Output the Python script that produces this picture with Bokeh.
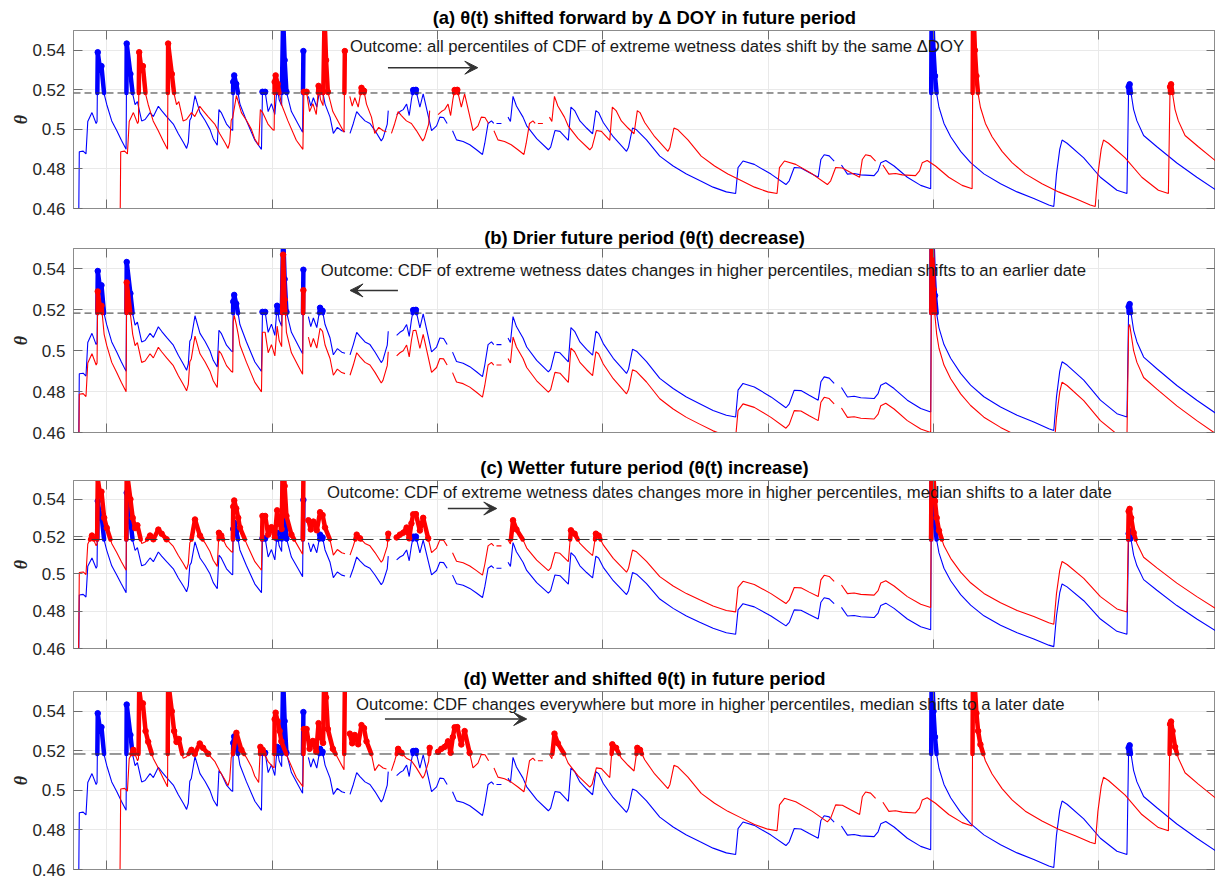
import math
from bokeh.plotting import figure
from bokeh.models import (Range1d, FixedTicker, LinearAxis, Span, Label, Arrow, VeeHead)
from bokeh.layouts import column
from bokeh.embed import file_html
from bokeh.resources import INLINE

nan = float("nan")

blue_t = [5.0, 5.8, 9.7, 12.5, 14.3, 18.5, 22.7, 23.6, 24.3, 26.7, 28.0, 30.7, 33.3, 38.3, 43.3, 48.0,
          52.7, 53.3, 57.0, 59.3, 61.7, 64.0, 68.3, 71.7, 76.7, 80.0, 85.0, 88.3, 93.3, 100.0,
          105.0, 110.0, 113.3, 115.0, 116.5, 118.0, 121.7, 126.7, 131.7, 136.7, 140.0, 144.0,
          145.7, 148.0, 153.3, 158.3, 159.5, 160.0, 161.0, 163.0, 165.0, 166.7, 173.3, 181.7,
          188.3, 189.3, 192.0, 195.0, 198.3, 201.7, 204.0, 206.0, 208.5, 210.0, 211.5, 213.3,
          218.3, 225.0, 229.5, 230.3, nan,
          235.3, 237.7, 240.3, 243.7, 247.0, 249.5, 252.0, 257.0, 260.3, 264.3, 268.7, 272.0, nan,
          277.0, 280.3, 283.7, 287.0, 292.0, 297.0, 302.0, 308.3, 310.0, 314.3, 315.3, nan,
          323.7, 327.0, 330.3, 333.7, 336.3, 338.5, 340.3, 343.0, 347.0, 350.3, 355.3, 358.7,
          363.7, 367.0, 370.7, 374.3, nan,
          379.7, 383.7, 390.3, 397.0, 403.7, 409.7, 412.0, 415.3, 418.7, 421.0, nan,
          423.7, 428.7, nan,
          435.3, 437.7, 440.3, 443.7, 450.3, 454.0, 464.0, 475.7, 478.0, 482.3, 487.3, 495.7,
          498.3, 502.0, 507.3, 514.0, 520.0, 523.3, 526.0, 530.7, 540.7, 554.0, 556.0, 560.0,
          564.0, 574.0, 587.3, 600.7, 614.0, 627.3, 640.7, 654.0, 663.3, 665.7, 670.7, 682.0,
          698.7, 713.7, 717.0, 722.0, 728.7, 737.0, 746.0, 748.7, 752.0, 757.0, 762.0, nan,
          769.3, 775.3, 782.0, 788.7, 802.0, 806.0, 808.7, 813.7, 822.0, 835.3, 848.7, 858.7,
          859.7, 861.5, 863.0, 864.7, 867.0, 872.0, 878.7, 888.7, 898.7, 912.0, 928.7, 945.3,
          962.0, 977.0, 982.0, 984.7, 988.0, 990.3, 995.3, 1012.0, 1028.7, 1045.3, 1055.3,
          1057.0, 1058.0, 1059.5, 1062.0, 1065.3, 1072.0, 1085.3, 1105.3, 1125.3, 1144.0]
blue_theta = [0.440, 0.4887, 0.4890, 0.4876, 0.5040, 0.5085, 0.5030, 0.5040, 0.5390, 0.5300, 0.5320,
              0.5180, 0.5126, 0.5043, 0.4994, 0.4945, 0.4899, 0.5434, 0.5280, 0.5180, 0.5125,
              0.5140, 0.5043, 0.5050, 0.5085, 0.5065, 0.5117, 0.5095, 0.5065, 0.5027, 0.4978,
              0.4935, 0.4904, 0.4935, 0.5046, 0.5060, 0.5171, 0.5085, 0.5046, 0.5000, 0.4953,
              0.4920, 0.5100, 0.5085, 0.5027, 0.4998, 0.4995, 0.5240, 0.5273, 0.5230, 0.5180,
              0.5128, 0.5043, 0.4945, 0.4899, 0.5190, 0.5190, 0.5090, 0.5130, 0.5075, 0.5220,
              0.5150, 0.5120, 0.5570, 0.5350, 0.5190, 0.5090, 0.5027, 0.4985, 0.5396, nan,
              0.5167, 0.5118, 0.5160, 0.5113, 0.5210, 0.5195, 0.5128, 0.5062, 0.4980, 0.5010,
              0.4993, 0.4988, nan,
              0.4980, 0.5030, 0.5090, 0.5070, 0.5043, 0.5030, 0.4994, 0.4942, 0.4955, 0.5027,
              0.5095, nan,
              0.5075, 0.5090, 0.5100, 0.5128, 0.5070, 0.5150, 0.5199, 0.5200, 0.5112, 0.5180,
              0.5070, 0.4994, 0.5018, 0.5062, 0.5060, 0.5030, nan,
              0.4993, 0.4947, 0.4939, 0.4922, 0.4897, 0.4873, 0.4930, 0.5030, 0.5043, 0.5030, nan,
              0.5030, 0.5030, nan,
              0.5062, 0.5040, 0.5167, 0.5118, 0.5062, 0.5018, 0.4953, 0.4897, 0.4910, 0.4994,
              0.4990, 0.4945, 0.5113, 0.5095, 0.5043, 0.5007, 0.4978, 0.5095, 0.5085, 0.5035,
              0.4963, 0.4889, 0.4910, 0.5007, 0.4998, 0.4947, 0.4865, 0.4815, 0.4774, 0.4741,
              0.4708, 0.4684, 0.4676, 0.4807, 0.4840, 0.4823, 0.4774, 0.4721, 0.4740, 0.4807,
              0.4805, 0.4782, 0.4758, 0.4848, 0.4872, 0.4866, 0.4840, nan,
              0.4820, 0.4774, 0.4777, 0.4770, 0.4766, 0.4790, 0.4831, 0.4843, 0.4815, 0.4758,
              0.4717, 0.4700, 0.5660, 0.5400, 0.5270, 0.5180, 0.5112, 0.5030, 0.4963, 0.4889,
              0.4832, 0.4775, 0.4725, 0.4684, 0.4651, 0.4618, 0.4610, 0.4774, 0.4900, 0.4946,
              0.4930, 0.4856, 0.4758, 0.4692, 0.4676, 0.5215, 0.5228, 0.5180, 0.5100, 0.5043,
              0.4969, 0.4912, 0.4830, 0.4758, 0.4695]

# ---- future-period scenarios (red): shift in time and change in theta ----
panel_titles = ["(a) \u03b8(t) shifted forward by \u0394 DOY in future period",
                "(b) Drier future period (\u03b8(t) decrease)",
                "(c) Wetter future period (\u03b8(t) increase)",
                "(d) Wetter and shifted \u03b8(t) in future period"]
shift_t = [41.5, 0.0, 0.0, 41.5]
offset_theta = [0.0, -0.010, 0.012, 0.012]
outcome_notes = ["Outcome: all percentiles of CDF of extreme wetness dates shift by the same \u0394DOY",
                 "Outcome: CDF of extreme wetness dates changes in higher percentiles, median shifts to an earlier date",
                 "Outcome: CDF of extreme wetness dates changes more in higher percentiles, median shifts to a later date",
                 "Outcome: CDF changes everywhere but more in higher percentiles, median shifts to a later date"]
note_t = [277, 247.7, 254, 283]
note_theta = [0.5420, 0.5393, 0.5436, 0.5434]
arrow_t0 = [315, 325, 375, 312]
arrow_t1 = [405, 277, 424, 454]
arrow_theta = [0.5312, 0.5295, 0.5350, 0.5361]

threshold = 0.5184
x_ticks = [33, 199, 365, 530, 696, 862, 1027]
y_ticks = [0.46, 0.48, 0.5, 0.52, 0.54]
y_tick_labels = ["0.46", "0.48", "0.5", "0.52", "0.54"]

# layout (frame heights and borders in px)
frame_h = [178, 184, 168, 178]
top_b = [30, 26, 30, 29]
bot_b = [14, 18, 14, 10]
title_standoff = [5.5, 2, 6, 5]
dashes = ["7 4", "7 4", "12 6", "12 6"]

FONT = "Liberation Sans"
AX = "#8c8c8c"
TICK = "#6e6e6e"


def above_parts(ts, vs, thr):
    x0, y0, x1, y1, px, py = [], [], [], [], [], []
    for i in range(len(ts) - 1):
        ta, va, tb, vb = ts[i], vs[i], ts[i + 1], vs[i + 1]
        if any(math.isnan(z) for z in (ta, va, tb, vb)):
            continue
        if va >= thr and vb >= thr:
            x0.append(ta); y0.append(va); x1.append(tb); y1.append(vb)
        elif va >= thr > vb:
            tc = ta + (thr - va) / (vb - va) * (tb - ta)
            x0.append(ta); y0.append(va); x1.append(tc); y1.append(thr)
        elif va < thr <= vb:
            tc = ta + (thr - va) / (vb - va) * (tb - ta)
            x0.append(tc); y0.append(thr); x1.append(tb); y1.append(vb)
    for t, v in zip(ts, vs):
        if not math.isnan(v) and v >= thr:
            px.append(t); py.append(v)
    return x0, y0, x1, y1, px, py


def tick_only_axis(ticks):
    # ticks drawn as (label-free) minor ticks, pointing inward
    return dict(ticker=FixedTicker(ticks=[], minor_ticks=ticks),
                minor_tick_in=9, minor_tick_out=0, minor_tick_line_color=TICK,
                major_tick_in=0, major_tick_out=0, major_label_standoff=0,
                axis_line_color=AX)


def make_panel(k):
    p = figure(frame_width=1142, frame_height=frame_h[k],
               x_range=Range1d(0, 1144), y_range=Range1d(0.46, 0.55),
               output_backend="svg", toolbar_location=None,
               x_axis_location=None, y_axis_location=None,
               min_border_left=73, min_border_right=0,
               min_border_top=top_b[k], min_border_bottom=bot_b[k],
               background_fill_color="white", border_fill_color="white")
    p.outline_line_color = AX
    p.title.text = panel_titles[k]
    p.title.align = "center"
    p.title.text_font = FONT
    p.title.text_font_style = "bold"
    p.title.text_font_size = "18.4px"
    p.title.text_color = "black"
    p.title.standoff = title_standoff[k]

    ya = LinearAxis(ticker=FixedTicker(ticks=y_ticks), major_tick_in=9, major_tick_out=0,
                    minor_tick_line_color=None, axis_line_color=AX,
                    major_tick_line_color=TICK, major_label_standoff=8,
                    major_label_text_font=FONT, major_label_text_font_size="17px",
                    major_label_text_color="#262626",
                    major_label_overrides=dict(zip(y_ticks, y_tick_labels)),
                    axis_label="\u03b8", axis_label_text_font="Liberation Serif",
                    axis_label_text_font_style="bold italic", axis_label_text_font_size="18px",
                    axis_label_text_color="#262626", axis_label_standoff=-2)
    p.add_layout(ya, "left")
    p.add_layout(LinearAxis(**tick_only_axis(x_ticks)), "below")
    p.add_layout(LinearAxis(**tick_only_axis(x_ticks)), "above")
    p.add_layout(LinearAxis(**tick_only_axis(y_ticks)), "right")

    p.xgrid.ticker = FixedTicker(ticks=x_ticks)
    p.ygrid.ticker = FixedTicker(ticks=y_ticks)
    p.grid.grid_line_color = "#e9e9e9"

    red_t = [t + shift_t[k] for t in blue_t]
    red_theta = [v + offset_theta[k] for v in blue_theta]

    p.line(blue_t, blue_theta, line_color="#0000ff", line_width=1.1)
    p.line(red_t, red_theta, line_color="#ff0000", line_width=1.1)

    for ts, vs, col in ((blue_t, blue_theta, "#0000ff"), (red_t, red_theta, "#ff0000")):
        x0, y0, x1, y1, px, py = above_parts(ts, vs, threshold)
        p.segment(x0, y0, x1, y1, line_color=col, line_width=4.5, line_cap="round")
        p.scatter(px, py, size=5.5, fill_color=col, line_color=col)

    p.add_layout(Span(location=threshold, dimension="width", line_color="#333333",
                      line_width=1, line_dash=dashes[k]))

    p.add_layout(Label(x=note_t[k], y=note_theta[k], text=outcome_notes[k],
                       text_font=FONT, text_font_size="16.7px", text_color="#1a1a1a",
                       text_baseline="middle", text_align="left"))
    p.add_layout(Arrow(end=VeeHead(size=13, fill_color="#333333", line_color="#333333"),
                       x_start=arrow_t0[k], y_start=arrow_theta[k],
                       x_end=arrow_t1[k], y_end=arrow_theta[k],
                       line_color="#333333", line_width=1.5))
    return p


panels = [make_panel(k) for k in range(4)]
layout = column(*panels, spacing=0)
open("out.html", "w").write(file_html(layout, INLINE, "theta"))
